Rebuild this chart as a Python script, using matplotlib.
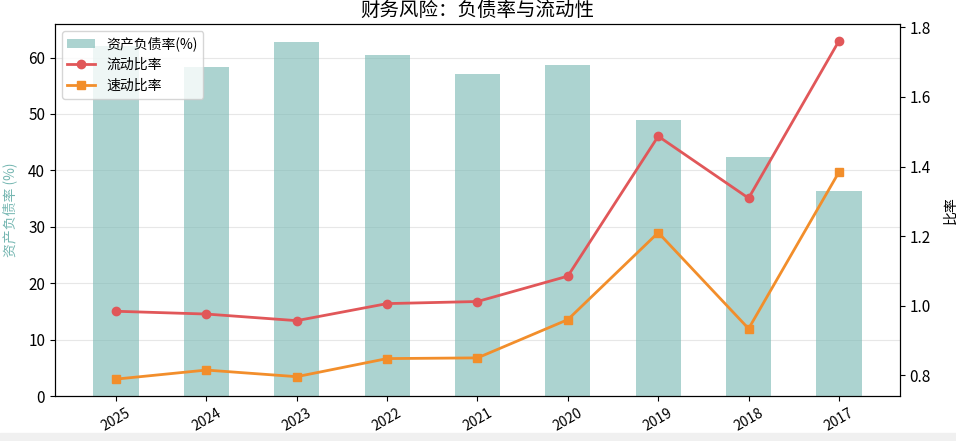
import matplotlib.pyplot as plt
import numpy as np
from matplotlib.patches import Rectangle

plt.rcParams['font.family'] = ['Noto Sans CJK SC', 'DejaVu Sans']
plt.rcParams['axes.unicode_minus'] = False

years = ['2025', '2024', '2023', '2022', '2021', '2020', '2019', '2018', '2017']
debt_ratio = [62.0, 58.3, 62.8, 60.5, 57.0, 58.6, 49.0, 42.3, 36.4]
current_ratio = [0.984, 0.976, 0.957, 1.006, 1.012, 1.085, 1.487, 1.309, 1.761]
quick_ratio = [0.789, 0.815, 0.796, 0.848, 0.850, 0.960, 1.210, 0.934, 1.384]

fig, ax = plt.subplots(figsize=(9.56, 4.41), dpi=100)
fig.subplots_adjust(left=0.0575, right=0.9414, top=0.9456, bottom=0.102)

x = np.arange(len(years))
bars = ax.bar(x, debt_ratio, width=0.5, color='#76b7b2', alpha=0.6, label='资产负债率(%)')
ax.set_ylabel('资产负债率 (%)', color='#76b7b2', fontsize=10, labelpad=8)
ax.set_xticks(x)
ax.set_xticklabels(years, rotation=30, fontsize=10)
ax.tick_params(axis='y', labelsize=11)
ax.grid(axis='y', alpha=0.3)
ax.set_axisbelow(True)

ax2 = ax.twinx()
l1, = ax2.plot(x, current_ratio, color='#e15759', marker='o', lw=2, ms=6, label='流动比率')
l2, = ax2.plot(x, quick_ratio, color='#f28e2b', marker='s', lw=2, ms=6, label='速动比率')
ax2.set_ylabel('比率', fontsize=10, labelpad=9)
ax2.tick_params(axis='y', labelsize=11)

ax.legend([bars, l1, l2], ['资产负债率(%)', '流动比率', '速动比率'], loc='upper left', fontsize=10)
ax.set_title('财务风险：负债率与流动性', fontsize=14, pad=6)

fig.patches.append(Rectangle((0, 0), 1, 8 / 441, transform=fig.transFigure,
                             color='#f0f0f0', zorder=-1))

fig.savefig('out.png', dpi=100)
